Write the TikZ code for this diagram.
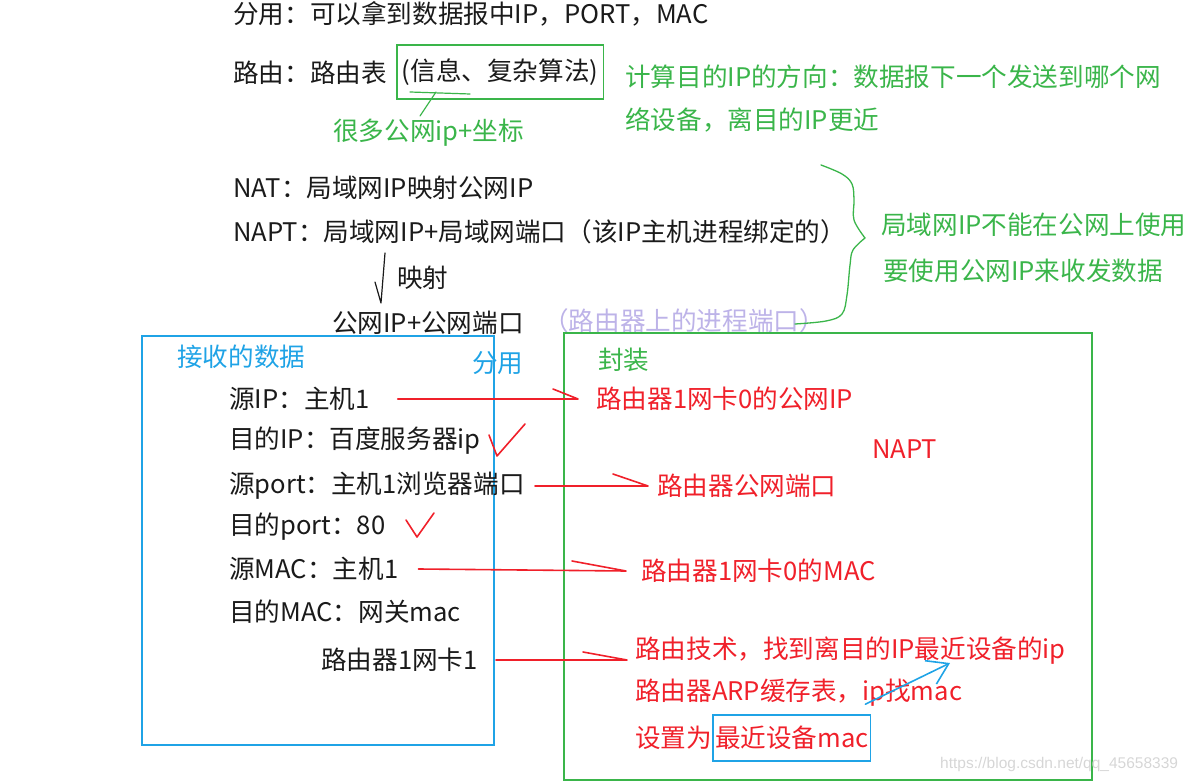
\documentclass[tikz,border=0pt]{standalone}
\usepackage{fontspec}
\setmainfont{Noto Sans CJK SC}
\newfontfamily\wmfont{Liberation Sans}
\usetikzlibrary{arrows.meta, positioning}
\definecolor{inkblack}{HTML}{1A1A1A}
\definecolor{notegreen}{HTML}{3AB54A}
\definecolor{markred}{HTML}{F0202A}
\definecolor{boxblue}{HTML}{1FA3E6}
\definecolor{softlilac}{HTML}{BDB3E8}
\definecolor{wmgray}{HTML}{D6D6D6}

\begin{document}
\begin{tikzpicture}[
    x=1pt, y=-1pt,
    txt/.style={anchor=west, inner sep=0pt, font=\fontsize{25.6}{30}\selectfont, text=#1},
    txt/.default=inkblack,
    pen/.style={draw=#1, line width=1.6pt, line cap=round, line join=round},
    frame/.style={draw=#1, line width=2pt, anchor=north west, inner sep=0pt}
]
\useasboundingbox (0,0) rectangle (1192,783);

% notes at the top
\node[txt] (demux) at (233,14) {分用：可以拿到数据报中IP，PORT，MAC};
\node[txt] (route) at (233,73) {路由：路由表};
\node[txt, draw=notegreen, line width=1.6pt, inner xsep=5pt, minimum height=54pt] (table) at (396,72) {(信息、复杂算法)};
\node[txt=notegreen] (many) at (333,133) {很多公网ip+坐标};
\node[txt=notegreen] (dir1) at (625,77) {计算目的IP的方向：数据报下一个发送到哪个网};
\node[txt=notegreen] (dir2) at (625,120) {络设备，离目的IP更近};

\coordinate (uline) at (436,92);
\draw[pen=notegreen, line width=1.2pt] (410,92) -- (470,94);
\draw[pen=notegreen, line width=1.2pt] (uline) -- (420,116);

% NAT / NAPT
\node[txt] (nat) at (233,188) {NAT：局域网IP映射公网IP};
\node[txt] (napt) at (233,232) {NAPT：局域网IP+局域网端口（该IP主机进程绑定的）};
\node[txt] (maplbl) at (397,278) {映射};
\node[txt] (pubip) at (332,323) {公网IP+公网端口};
\node[txt=softlilac] (proc) at (543,321) {（路由器上的进程端口）};
\node[txt=notegreen] (lan1) at (881,225) {局域网IP不能在公网上使用};
\node[txt=notegreen] (lan2) at (883,271) {要使用公网IP来收发数据};

\coordinate (maptop) at (385,253);
\coordinate (mapbot) at (381,303);
\draw[pen=inkblack, line width=1.2pt] (maptop) -- (mapbot) -- ++(-6,-21);

% hand drawn brace
\draw[pen=notegreen, line width=1.3pt] plot[smooth, tension=0.6] coordinates {(821,165) (842,174) (852,184) (854,200) (854,220) (865,238)};
\draw[pen=notegreen, line width=1.3pt] plot[smooth, tension=0.6] coordinates {(865,238) (853,250) (850,265) (847,295) (842,314) (826,321) (795,324)};

% received packet
\node[frame=boxblue, minimum width=352pt, minimum height=409pt] (recv) at (141,335) {};
\node[txt=boxblue] (recvlbl) at (177,357) {接收的数据};
\node[txt=boxblue] (demuxlbl) at (472,363) {分用};
\node[txt] (srcip) at (229,399) {源IP：主机1};
\node[txt] (dstip) at (229,441) {目的IP：百度服务器ip};
\node[txt] (srcport) at (229,486) {源port：主机1浏览器端口};
\node[txt] (dstport) at (229,527) {目的port：80};
\node[txt] (srcmac) at (229,569) {源MAC：主机1};
\node[txt] (dstmac) at (229,612) {目的MAC：网关mac};
\node[txt] (nic1) at (321,660) {路由器1网卡1};

% encapsulated packet
\node[frame=notegreen, minimum width=528pt, minimum height=447pt] (encap) at (563,332) {};
\node[txt=notegreen] (encaplbl) at (598,360) {封装};
\node[txt=markred] (newip) at (596,399) {路由器1网卡0的公网IP};
\node[txt=markred] (naptlbl) at (872,449) {NAPT};
\node[txt=markred] (newport) at (657,486) {路由器公网端口};
\node[txt=markred] (newmac) at (641,571) {路由器1网卡0的MAC};
\node[txt=markred] (rt1) at (635,651) {路由技术，找到离目的IP最近设备的ip};
\node[txt=markred] (rt2) at (635,693) {路由器ARP缓存表，ip找mac};
\node[txt=markred] (rt3) at (635,738) {设置为};
\node[txt=markred, draw=boxblue, line width=1.6pt, inner xsep=2pt, minimum height=46pt, right=0pt of rt3] (nearmac) {最近设备mac};

% red arrows
\draw[pen=markred] ([xshift=28pt]srcip.east) -- ([xshift=-18pt]newip.west) -- ++(-25,-10);
\draw[pen=markred] ([xshift=10pt]srcport.east) -- ([xshift=-9pt]newport.west) -- ++(-35,-12);
\draw[pen=markred] ([xshift=20pt]srcmac.east) -- ([xshift=-15pt]newmac.west) -- ++(-54,-10);
\draw[pen=markred] ([xshift=18pt]nic1.east) -- ([xshift=-8pt]rt1.west |- nic1.east) -- ++(-44,-8);

% check marks
\draw[pen=markred] (489,435) -- (497,456) -- (525,424);
\draw[pen=markred] (406,520) -- (417,537) -- (434,513);

% blue arrow
\coordinate (tipip) at (950,663);
\draw[pen=boxblue, -{Straight Barb[length=20pt, width=26pt]}] ([shift={(-6,-10)}]nearmac.north east) -- (tipip);

\node[anchor=west, inner sep=0pt, font=\wmfont\fontsize{15.5}{18}\selectfont, text=wmgray] (wm) at (940,764) {https://blog.csdn.net/qq\_45658339};
\end{tikzpicture}
\end{document}
